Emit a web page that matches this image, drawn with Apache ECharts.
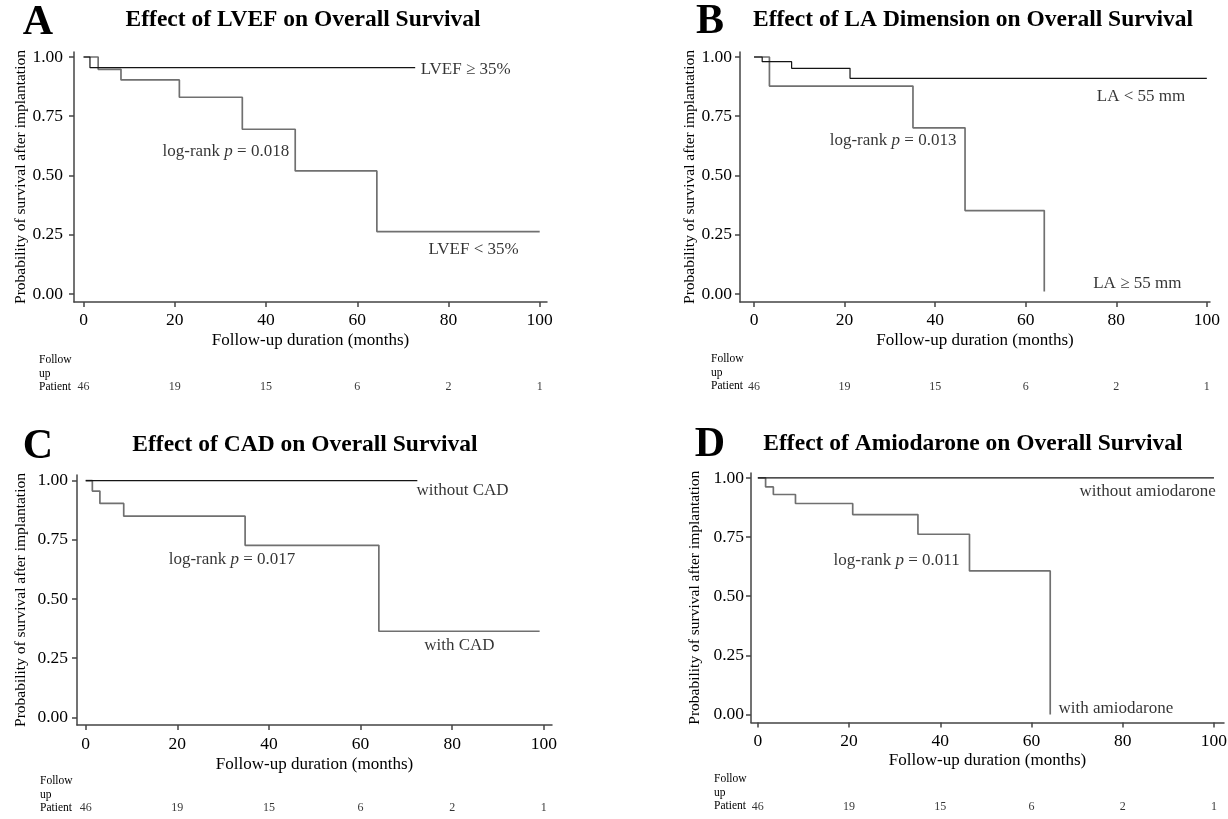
<!DOCTYPE html>
<html>
<head>
<meta charset="utf-8">
<script src="https://cdn.jsdelivr.net/npm/echarts@6/dist/echarts.min.js"></script>
<style>html,body{margin:0;padding:0;background:#fff;}#c{width:1228px;height:819px;}</style>
</head>
<body>
<div id="c"></div>
<script>
// ---------------- data ----------------
const xTicks = [0, 20, 40, 60, 80, 100];
const yTicks = [0, 0.25, 0.5, 0.75, 1];
const atRisk = [46, 19, 15, 6, 2, 1];

const panelLetters = ['A', 'B', 'C', 'D'];
const panelTitles = [
  'Effect of LVEF on Overall Survival',
  'Effect of LA Dimension on Overall Survival',
  'Effect of CAD on Overall Survival',
  'Effect of Amiodarone on Overall Survival'
];

// Panel A
const aHighTime = [0, 1.4, 72.7];
const aHighSurv = [1, 0.955, 0.955];
const aLowTime = [0, 3.2, 8.2, 21.0, 34.8, 46.4, 64.3, 100];
const aLowSurv = [1, 0.948, 0.903, 0.830, 0.695, 0.519, 0.263, 0.263];
// Panel B
const bSmallTime = [0, 1.8, 8.3, 21.2, 100];
const bSmallSurv = [1, 0.980, 0.952, 0.910, 0.910];
const bLargeTime = [0, 3.4, 35.1, 46.6, 64.1];
const bLargeSurv = [1, 0.877, 0.701, 0.352, 0.01];
// Panel C
const cWithoutTime = [0, 72.4];
const cWithoutSurv = [1, 1];
const cWithTime = [0, 1.45, 3.1, 8.3, 34.8, 64.0, 99.1];
const cWithSurv = [1, 0.956, 0.904, 0.850, 0.727, 0.364, 0.364];
// Panel D
const dWithoutTime = [0, 100];
const dWithoutSurv = [1, 1];
const dWithTime = [0, 1.7, 3.4, 8.25, 20.8, 35.1, 46.4, 64.1];
const dWithSurv = [1, 0.962, 0.930, 0.892, 0.845, 0.762, 0.607, 0.0];

// annotation texts and their anchor points (data coordinates)
const annotText = [
  ['LVEF ≥ 35%', 'LVEF < 35%', 'log-rank {i|p} = 0.018'],
  ['LA < 55 mm', 'LA ≥ 55 mm', 'log-rank {i|p} = 0.013'],
  ['without CAD', 'with CAD', 'log-rank {i|p} = 0.017'],
  ['without amiodarone', 'with amiodarone', 'log-rank {i|p} = 0.011']
];
const annotX = [[73.8, 75.5, 17.2], [75.6, 74.8, 16.6], [72.1, 73.8, 18.0], [70.4, 65.8, 16.5]];
const annotY = [[0.945, 0.186, 0.599], [0.835, 0.042, 0.648], [0.958, 0.305, 0.667], [0.941, 0.025, 0.652]];

const curves = [
  [[aHighTime, aHighSurv, 'dark'], [aLowTime, aLowSurv, 'gray']],
  [[bSmallTime, bSmallSurv, 'dark'], [bLargeTime, bLargeSurv, 'gray']],
  [[cWithoutTime, cWithoutSurv, 'dark'], [cWithTime, cWithSurv, 'gray']],
  [[dWithoutTime, dWithoutSurv, 'dark'], [dWithTime, dWithSurv, 'gray']]
];

// ---------------- layout ----------------
const FONT = "'Liberation Serif','Times New Roman',serif";
const layouts = [
  {left: 74, top: 52, width: 473, height: 250, xMin: -2.1, xMax: 101.6, yMin: -0.034, yMax: 1.021,
   nameGap: 45, yMargin: 11, xMargin: 9, xNameGap: 30, riskY: 387,
   letter: [38, 23], title: [303, 20], follow: [39, 353]},
  {left: 740, top: 52, width: 470, height: 250, xMin: -3.1, xMax: 100.7, yMin: -0.034, yMax: 1.021,
   nameGap: 41, yMargin: 8, xMargin: 9, xNameGap: 30, riskY: 387,
   letter: [710, 22], title: [973, 20], follow: [711, 352]},
  {left: 77, top: 475, width: 475, height: 250, xMin: -1.9, xMax: 101.8, yMin: -0.032, yMax: 1.024,
   nameGap: 48, yMargin: 9, xMargin: 10, xNameGap: 31, riskY: 808,
   letter: [38, 447], title: [305, 445], follow: [40, 774]},
  {left: 751, top: 473, width: 473, height: 249.5, xMin: -1.5, xMax: 102.2, yMin: -0.034, yMax: 1.021,
   nameGap: 48, yMargin: 7, xMargin: 10, xNameGap: 30, riskY: 807,
   letter: [710, 445], title: [973, 444], follow: [714, 772]}
];

const AXIS_COLOR = '#444';
const TEXT_COLOR = '#000';
const lineColors = {dark: '#141414', gray: '#707070'};
const lineWidths = {dark: 1.2, gray: 1.7};

const grid = [], xAxis = [], yAxis = [], series = [], graphic = [];

layouts.forEach((L, i) => {
  const g = i * 2;
  grid.push({left: L.left, top: L.top, width: L.width, height: L.height, containLabel: false, outerBoundsMode: 'none'});
  grid.push({left: L.left, top: L.riskY - 7, width: L.width, height: 14, containLabel: false, outerBoundsMode: 'none'});

  xAxis.push({
    type: 'value', gridIndex: g, min: L.xMin, max: L.xMax,
    axisLine: {show: true, onZero: false, lineStyle: {color: AXIS_COLOR, width: 1.5}},
    axisTick: {show: true, length: 5, customValues: xTicks, lineStyle: {color: AXIS_COLOR, width: 1.5}},
    axisLabel: {show: true, customValues: xTicks, margin: L.xMargin, color: TEXT_COLOR, fontFamily: FONT, fontSize: 17.5},
    splitLine: {show: false},
    name: 'Follow-up duration (months)', nameLocation: 'middle', nameGap: L.xNameGap,
    nameTextStyle: {color: TEXT_COLOR, fontFamily: FONT, fontSize: 17}
  });
  xAxis.push({type: 'value', gridIndex: g + 1, min: L.xMin, max: L.xMax, show: false});

  yAxis.push({
    type: 'value', gridIndex: g, min: L.yMin, max: L.yMax,
    axisLine: {show: true, onZero: false, lineStyle: {color: AXIS_COLOR, width: 1.5}},
    axisTick: {show: true, length: 5, customValues: yTicks, lineStyle: {color: AXIS_COLOR, width: 1.5}},
    axisLabel: {show: true, customValues: yTicks, margin: L.yMargin, color: TEXT_COLOR, fontFamily: FONT, fontSize: 17.5,
      formatter: v => v.toFixed(2)},
    splitLine: {show: false},
    name: 'Probability of survival after implantation', nameLocation: 'middle', nameGap: L.nameGap,
    nameTextStyle: {color: TEXT_COLOR, fontFamily: FONT, fontSize: 15.5}
  });
  yAxis.push({type: 'value', gridIndex: g + 1, min: 0, max: 1, show: false});

  curves[i].forEach(([t, s, kind]) => {
    series.push({
      type: 'line', xAxisIndex: g, yAxisIndex: g, step: 'end', symbol: 'none', silent: true,
      data: t.map((x, j) => [x, s[j]]),
      lineStyle: {color: lineColors[kind], width: lineWidths[kind]},
      z: kind === 'dark' ? 3 : 2
    });
  });

  series.push({
    type: 'scatter', xAxisIndex: g, yAxisIndex: g, symbolSize: 1, silent: true,
    itemStyle: {color: 'rgba(0,0,0,0)'},
    data: annotText[i].map((txt, j) => ({name: txt, value: [annotX[i][j], annotY[i][j]]})),
    label: {show: true, position: 'right', distance: 0, formatter: p => p.name,
      color: TEXT_COLOR, fontFamily: FONT, fontSize: 17,
      rich: {i: {fontStyle: 'italic', fontFamily: FONT, fontSize: 17, color: TEXT_COLOR}}}
  });

  series.push({
    type: 'scatter', xAxisIndex: g + 1, yAxisIndex: g + 1, symbolSize: 1, silent: true,
    itemStyle: {color: 'rgba(0,0,0,0)'},
    data: xTicks.map((x, j) => ({name: String(atRisk[j]), value: [x, 0.5]})),
    label: {show: true, position: 'inside', formatter: p => p.name,
      color: TEXT_COLOR, fontFamily: FONT, fontSize: 12}
  });

  graphic.push({type: 'text', x: L.letter[0], y: L.letter[1], silent: true,
    style: {text: panelLetters[i], fill: '#000', font: 'bold 42px ' + FONT, textAlign: 'center', textVerticalAlign: 'middle'}});
  graphic.push({type: 'text', x: L.title[0], y: L.title[1], silent: true,
    style: {text: panelTitles[i], fill: '#000', font: 'bold 23.5px ' + FONT, textAlign: 'center', textVerticalAlign: 'middle'}});
  graphic.push({type: 'text', x: L.follow[0], y: L.follow[1], silent: true,
    style: {text: 'Follow\nup\nPatient', fill: TEXT_COLOR, font: '11.5px ' + FONT, lineHeight: 13.7, textAlign: 'left', textVerticalAlign: 'top'}});
});

const chart = echarts.init(document.getElementById('c'), null, {renderer: 'canvas'});
chart.setOption({
  backgroundColor: '#ffffff',
  animation: false,
  grid, xAxis, yAxis, series, graphic
});
</script>
</body>
</html>
